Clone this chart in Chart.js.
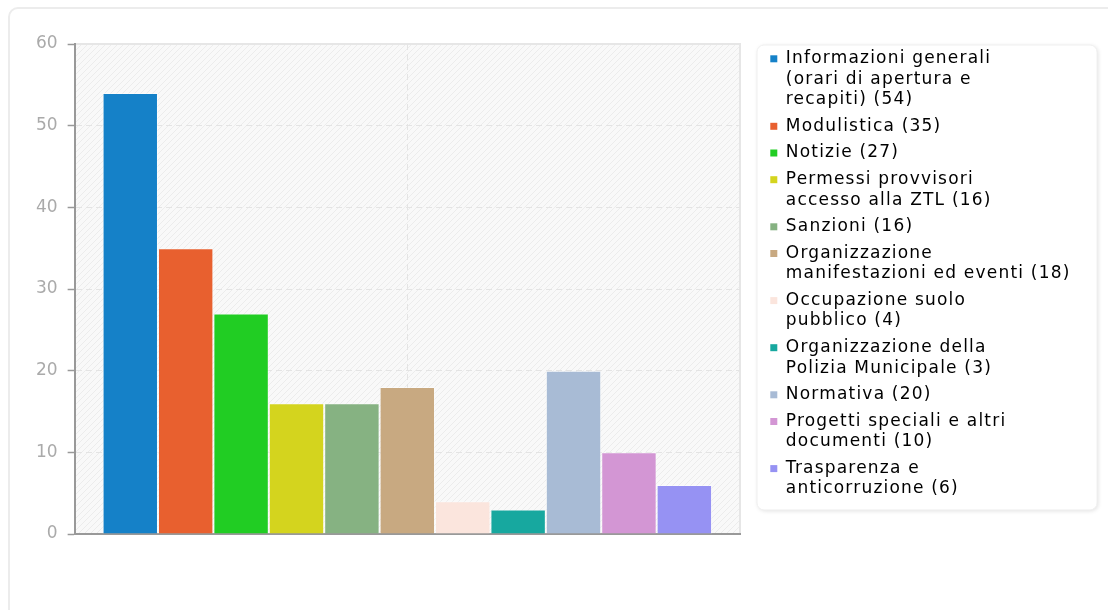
<!DOCTYPE html>
<html>
<head>
<meta charset="utf-8">
<script src="https://cdn.jsdelivr.net/npm/chart.js@4"></script>
<style>
  html, body { margin: 0; padding: 0; background: #fff; overflow: hidden; }
  .card { position: absolute; left: 8px; top: 7px; width: 1130px; height: 640px; border: 2px solid #ececec; border-radius: 10px; }
  .wrap { position: absolute; left: 0; top: 0; width: 1108px; height: 610px; }
</style>
</head>
<body>
<div class="card"></div>
<div class="wrap"><canvas id="chart" width="1108" height="610"></canvas></div>
<script>
const categories = [
    "Informazioni generali (orari di apertura e recapiti)",
    "Modulistica",
    "Notizie",
    "Permessi provvisori accesso alla ZTL",
    "Sanzioni",
    "Organizzazione manifestazioni ed eventi",
    "Occupazione suolo pubblico",
    "Organizzazione della Polizia Municipale",
    "Normativa",
    "Progetti speciali e altri documenti",
    "Trasparenza e anticorruzione"
];
const counts = [54, 35, 27, 16, 16, 18, 4, 3, 20, 10, 6];
const colors = ["#1581c8", "#e8602f", "#21cd23", "#d4d41e", "#86b282", "#c8a981",
                "#fbe5dd", "#17a89f", "#a8bbd5", "#d396d4", "#9692f3"];
const yMin = 0, yMax = 60, yStep = 10;

// split a label into lines of at most 25 chars, then add the count
function legendLines(label, count) {
    const lines = [];
    let cur = "";
    label.split(" ").forEach(w => {
        if (cur && (cur + " " + w).length > 25) { lines.push(cur); cur = w; }
        else cur = cur ? cur + " " + w : w;
    });
    lines.push(cur + " (" + count + ")");
    return lines;
}

// diagonal hatch used behind the bars
function hatch(ctx) {
    const c = document.createElement("canvas");
    c.width = 6; c.height = 6;
    const p = c.getContext("2d");
    p.fillStyle = "#f9f9f9";
    p.fillRect(0, 0, 6, 6);
    p.strokeStyle = "#ececec";
    p.lineWidth = 1;
    p.beginPath();
    p.moveTo(-1, 7); p.lineTo(7, -1);
    p.moveTo(-1, 1); p.lineTo(1, -1);
    p.moveTo(5, 7); p.lineTo(7, 5);
    p.stroke();
    return ctx.createPattern(c, "repeat");
}

const backdrop = {
    id: "backdrop",
    beforeDraw(chart) {
        const { ctx, chartArea: a, legend } = chart;
        ctx.save();
        ctx.fillStyle = hatch(ctx);
        ctx.fillRect(a.left, a.top, a.right - a.left, a.bottom - a.top);
        ctx.strokeStyle = "#e6e6e6";
        ctx.lineWidth = 2;
        ctx.beginPath();
        ctx.moveTo(a.left, a.top);
        ctx.lineTo(a.right, a.top);
        ctx.lineTo(a.right, a.bottom);
        ctx.stroke();

        // legend card
        const boxes = legend.legendHitBoxes;
        const last = boxes[boxes.length - 1];
        const x = legend.left - 7, y = legend.top + 1;
        const h = last.top + last.height + 9 - y;
        ctx.shadowColor = "rgba(0,0,0,0.13)";
        ctx.shadowBlur = 4;
        ctx.shadowOffsetX = 1;
        ctx.shadowOffsetY = 1;
        ctx.fillStyle = "#fff";
        ctx.beginPath();
        ctx.roundRect(x, y, 340, h, 7);
        ctx.fill();
        ctx.shadowColor = "transparent";
        ctx.strokeStyle = "#f0f0f0";
        ctx.lineWidth = 1;
        ctx.stroke();
        ctx.restore();
    }
};

// fixed legend width + a bit of letter spacing
const legendPatch = {
    id: "legendPatch",
    beforeLayout(chart) {
        const lg = chart.legend;
        if (!lg || lg._patched) return;
        lg._patched = true;
        const fit = lg.fit, draw = lg.draw;
        lg.fit = function () {
            this.ctx.save();
            this.ctx.letterSpacing = "1.2px";
            fit.call(this);
            this.ctx.restore();
            this.width = 344;
        };
        lg.draw = function () {
            this.ctx.save();
            this.ctx.letterSpacing = "1.2px";
            draw.call(this);
            this.ctx.restore();
        };
    }
};

Chart.defaults.font.family = "'DejaVu Sans', sans-serif";
Chart.defaults.font.size = 17;

new Chart(document.getElementById("chart"), {
    type: "bar",
    data: {
        labels: [""],
        datasets: categories.map((name, i) => ({
            label: name,
            data: [counts[i]],
            backgroundColor: colors[i],
            borderColor: "rgba(255,255,255,0.45)",
            borderWidth: 1,
            barPercentage: 1,
            categoryPercentage: 0.916
        }))
    },
    options: {
        responsive: false,
        animation: false,
        layout: { padding: { left: 26, top: 44, bottom: 76, right: 0 } },
        scales: {
            x: {
                ticks: { display: false },
                grid: { offset: false, color: "#e4e4e4", drawTicks: false },
                border: { color: "#999", width: 2, dash: [6, 4] }
            },
            y: {
                min: yMin,
                max: yMax,
                ticks: { stepSize: yStep, color: "#aaa", padding: 10 },
                grid: {
                    color: c => (c.tick.value === yMin || c.tick.value === yMax) ? "transparent" : "#e4e4e4",
                    tickLength: 7,
                    tickColor: "#999",
                    tickWidth: 1.5
                },
                border: { color: "#999", width: 2, dash: [6, 4] }
            },
            gap: {
                type: "linear",
                position: "right",
                grid: { display: false },
                ticks: { display: false },
                border: { display: false },
                afterFit: s => { s.width = 24; }
            }
        },
        plugins: {
            tooltip: { enabled: false },
            legend: {
                position: "right",
                align: "start",
                labels: {
                    boxWidth: 7,
                    boxHeight: 7,
                    padding: 6.3,
                    color: "#333",
                    font: { size: 17, lineHeight: 1.2 },
                    generateLabels: chart => chart.data.datasets.map((ds, i) => ({
                        text: legendLines(categories[i], counts[i]),
                        fillStyle: colors[i],
                        strokeStyle: colors[i],
                        lineWidth: 0,
                        hidden: false,
                        datasetIndex: i
                    }))
                }
            }
        }
    },
    plugins: [backdrop, legendPatch]
});
</script>
</body>
</html>
